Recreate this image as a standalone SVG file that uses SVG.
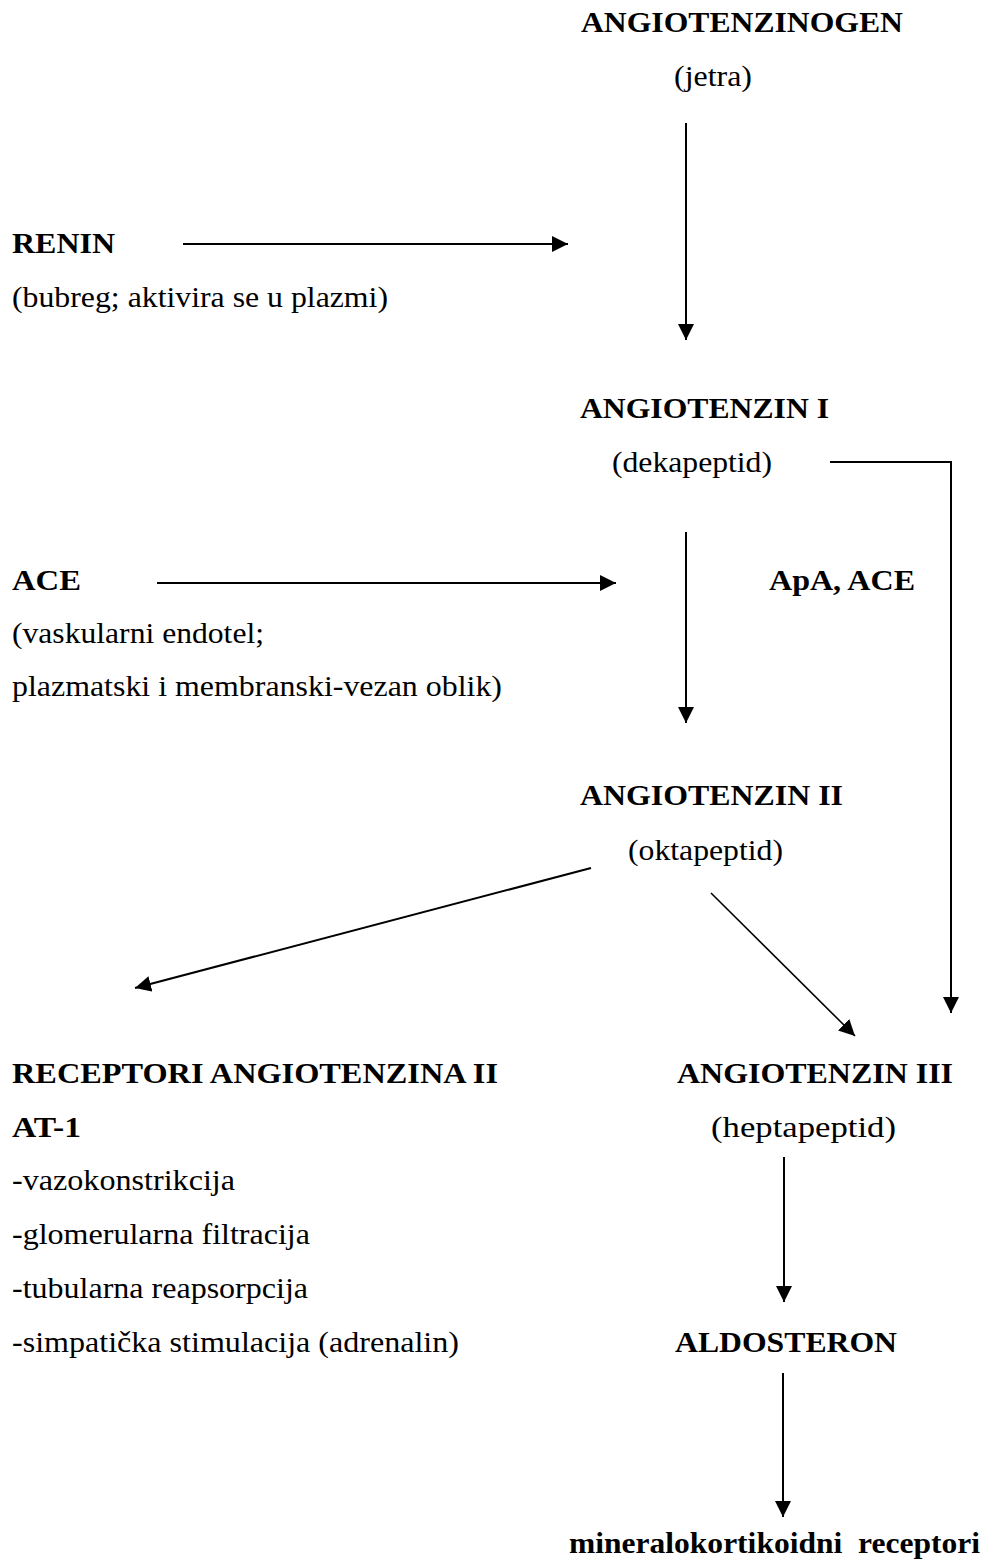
<svg xmlns="http://www.w3.org/2000/svg" width="994" height="1566" viewBox="0 0 994 1566">
<style>
text{font-family:"Liberation Serif","Times New Roman",serif;font-size:30px;fill:#000}
.b{font-weight:bold}
.c{stroke:#000;stroke-width:2;fill:none}
.t{stroke-width:1.6}
</style>
<defs>
<marker id="ah" markerUnits="userSpaceOnUse" markerWidth="18" markerHeight="18" refX="16" refY="8" orient="auto">
<path d="M0,0 L16,8 L0,16 Z" fill="#000"/>
</marker>
</defs>
<rect width="994" height="1566" fill="#fff"/>
<g id="connectors">
<line class="c" x1="686" y1="123" x2="686" y2="340" marker-end="url(#ah)"/>
<line class="c" x1="183" y1="244" x2="568" y2="244" marker-end="url(#ah)"/>
<polyline class="c" points="830,462 951,462 951,1013" marker-end="url(#ah)"/>
<line class="c" x1="686" y1="532" x2="686" y2="723" marker-end="url(#ah)"/>
<line class="c" x1="157" y1="583" x2="616" y2="583" marker-end="url(#ah)"/>
<line class="c" x1="591" y1="868" x2="135" y2="988" marker-end="url(#ah)"/>
<line class="c t" x1="711" y1="893" x2="855" y2="1036" marker-end="url(#ah)"/>
<line class="c" x1="784" y1="1157" x2="784" y2="1302" marker-end="url(#ah)"/>
<line class="c" x1="783" y1="1373" x2="783" y2="1517" marker-end="url(#ah)"/>
</g>
<g id="angiotenzinogen">
<text class="b" x="581" y="32" textLength="322" lengthAdjust="spacingAndGlyphs">ANGIOTENZINOGEN</text>
<text x="674" y="86" textLength="78" lengthAdjust="spacingAndGlyphs">(jetra)</text>
</g>
<g id="renin">
<text class="b" x="12" y="253" textLength="103" lengthAdjust="spacingAndGlyphs">RENIN</text>
<text x="12" y="307" textLength="376" lengthAdjust="spacingAndGlyphs">(bubreg; aktivira se u plazmi)</text>
</g>
<g id="angiotenzin1">
<text class="b" x="580" y="418" textLength="249" lengthAdjust="spacingAndGlyphs">ANGIOTENZIN I</text>
<text x="612" y="472" textLength="160" lengthAdjust="spacingAndGlyphs">(dekapeptid)</text>
</g>
<g id="ace">
<text class="b" x="12" y="590" textLength="69" lengthAdjust="spacingAndGlyphs">ACE</text>
<text x="12" y="643" textLength="252" lengthAdjust="spacingAndGlyphs">(vaskularni endotel;</text>
<text x="12" y="696" textLength="490" lengthAdjust="spacingAndGlyphs">plazmatski i membranski-vezan oblik)</text>
</g>
<g id="apa-ace">
<text class="b" x="769" y="590" textLength="146" lengthAdjust="spacingAndGlyphs">ApA, ACE</text>
</g>
<g id="angiotenzin2">
<text class="b" x="580" y="805" textLength="263" lengthAdjust="spacingAndGlyphs">ANGIOTENZIN II</text>
<text x="628" y="860" textLength="155" lengthAdjust="spacingAndGlyphs">(oktapeptid)</text>
</g>
<g id="receptori">
<text class="b" x="12" y="1083" textLength="486" lengthAdjust="spacingAndGlyphs">RECEPTORI ANGIOTENZINA II</text>
<text class="b" x="12" y="1137" textLength="69" lengthAdjust="spacingAndGlyphs">AT-1</text>
<text x="12" y="1190" textLength="223" lengthAdjust="spacingAndGlyphs">-vazokonstrikcija</text>
<text x="12" y="1244" textLength="298" lengthAdjust="spacingAndGlyphs">-glomerularna filtracija</text>
<text x="12" y="1298" textLength="296" lengthAdjust="spacingAndGlyphs">-tubularna reapsorpcija</text>
<text x="12" y="1352" textLength="447" lengthAdjust="spacingAndGlyphs">-simpatička stimulacija (adrenalin)</text>
</g>
<g id="angiotenzin3">
<text class="b" x="677" y="1083" textLength="276" lengthAdjust="spacingAndGlyphs">ANGIOTENZIN III</text>
<text x="711" y="1137" textLength="185" lengthAdjust="spacingAndGlyphs">(heptapeptid)</text>
</g>
<g id="aldosteron">
<text class="b" x="675" y="1352" textLength="222" lengthAdjust="spacingAndGlyphs">ALDOSTERON</text>
</g>
<g id="mineralokortikoidni">
<text class="b" x="569" y="1553" textLength="411" lengthAdjust="spacingAndGlyphs" xml:space="preserve">mineralokortikoidni  receptori</text>
</g>
</svg>
